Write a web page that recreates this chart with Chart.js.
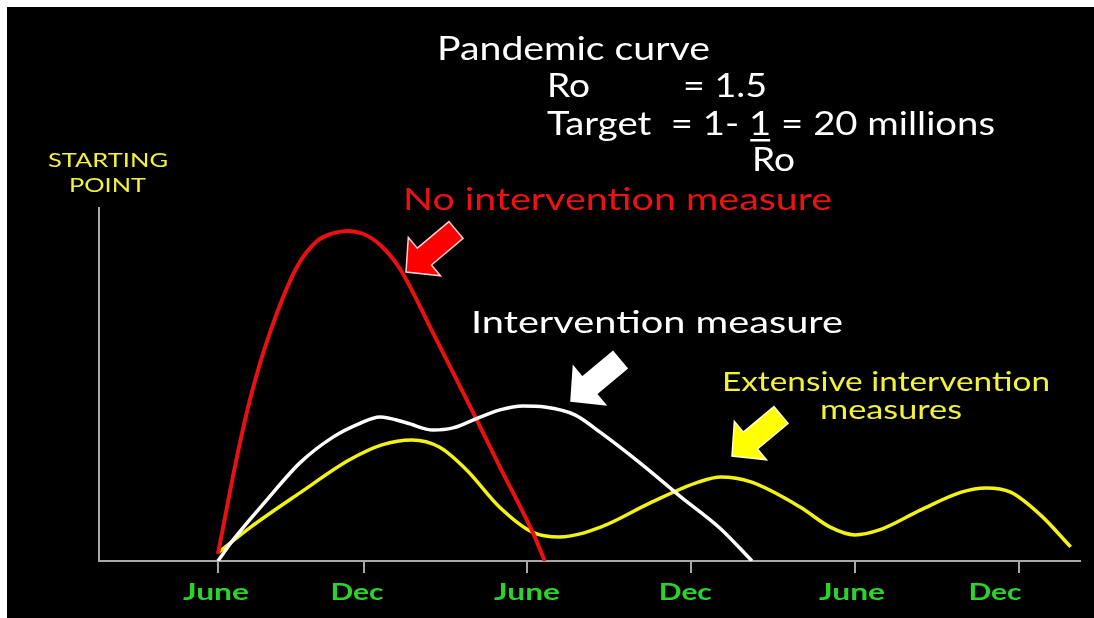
<!DOCTYPE html>
<html>
<head>
<meta charset="utf-8">
<script src="https://cdn.jsdelivr.net/npm/chart.js@4/dist/chart.umd.min.js"></script>
<style>
  html, body { margin: 0; padding: 0; background: #fff; }
  canvas { display: block; }
</style>
</head>
<body>
<canvas id="curve" width="1094" height="618"></canvas>
<script>
// x: months after the first June, y: relative number of cases
const noInterventionX = [0, 0.15, 0.62, 1.17, 1.9, 2.89, 3.62, 4.2, 4.72, 5.3, 5.93, 6.66, 7.87, 9.11, 10.32, 11.53, 11.96];
const noInterventionY = [2, 7.9, 26.6, 45.6, 64.6, 83.3, 90.6, 92.8, 93.5, 92.7, 89.6, 82.8, 64.6, 45.6, 26.6, 7.9, 0];

const interventionX = [0, 0.55, 1.79, 3.0, 4.21, 5.2, 5.93, 6.92, 7.87, 8.6, 9.33, 10.32, 11.16, 11.96,
                       13.06, 13.98, 15.44, 16.9, 18.37, 19.54];
const interventionY = [0, 5.9, 17.3, 27.8, 35.1, 39.0, 40.8, 39.1, 37.1, 37.7, 39.9, 42.8, 43.9, 43.6,
                       41.4, 36.5, 27.8, 18.4, 9.3, 0];

const extensiveX = [0, 1.2, 3.0, 4.8, 6.0, 7.1, 8.1, 9.1, 10.3, 11.5, 12.5, 14.0, 15.8, 17.6, 18.4, 19.5,
                    21.3, 22.4, 23.3, 24.2, 25.7, 27.2, 28.1, 29.0, 30.1, 31.2];
const extensiveY = [2.3, 9.6, 19.3, 28.6, 32.9, 34.3, 32.3, 25.8, 15.3, 8.2, 6.8, 9.6, 16.4, 22.4, 23.8, 22.4,
                    15.3, 9.6, 7.4, 8.8, 14.4, 19.5, 20.7, 19.5, 13.0, 4.0];

// Axis ticks and their month labels
const tickMonths = [0, 5.34, 11.31, 17.31, 23.31, 29.31];
const tickLabels = ['June', 'Dec', 'June', 'Dec', 'June', 'Dec'];
const labelMonths = [-0.07, 5.09, 11.31, 17.1, 23.2, 28.43];

const toPoints = (xs, ys) => xs.map((x, i) => ({ x: x, y: ys[i] }));

// Text blocks: left edge, baseline, width, cap height
const texts = [
  { text: 'Pandemic curve', x: 437, y: 60, w: 273, cap: 24, color: '#ffffff' },
  { text: 'Ro', x: 547, y: 97, w: 43, cap: 24, color: '#ffffff' },
  { text: '= 1.5', x: 683, y: 97, w: 84, cap: 24, color: '#ffffff' },
  { text: 'Target  = 1- 1 = 20 millions', x: 547, y: 135, w: 448, cap: 24, color: '#ffffff', underline: 'Target  = 1- ' },
  { text: 'Ro', x: 752, y: 171, w: 43, cap: 24, color: '#ffffff' },
  { text: 'STARTING', x: 48, y: 167, w: 120, cap: 14, color: '#f2f23a' },
  { text: 'POINT', x: 69, y: 192, w: 77, cap: 14, color: '#f2f23a' },
  { text: 'No intervention measure', x: 403, y: 210, w: 429, cap: 22, color: '#ee1111' },
  { text: 'Intervention measure', x: 471, y: 333, w: 372, cap: 22, color: '#ffffff' },
  { text: 'Extensive intervention', x: 722, y: 391, w: 328, cap: 19, color: '#f2f23a' },
  { text: 'measures', x: 820, y: 419, w: 142, cap: 19, color: '#f2f23a' }
];

// Block arrows pointing at the curves
const arrows = [
  { tailX: 456, tailY: 230, tipX: 406, tipY: 272, fill: '#ff0000', edge: '#ffd0d0' },
  { tailX: 620, tailY: 360, tipX: 571, tipY: 401, fill: '#ffffff', edge: '#ffffff' },
  { tailX: 781, tailY: 415, tipX: 732, tipY: 456, fill: '#ffff00', edge: '#ffffd0' }
];

const CAP_RATIO = 0.7165;

function drawFittedText(ctx, t, weight) {
  const size = t.cap / CAP_RATIO;
  ctx.font = (weight || 'normal') + ' ' + size + 'px Lato';
  const full = ctx.measureText(t.text).width;
  const sx = t.w / full;
  ctx.save();
  ctx.translate(t.x, t.y);
  ctx.scale(sx, 1);
  ctx.fillStyle = t.color;
  ctx.textBaseline = 'alphabetic';
  ctx.textAlign = 'left';
  ctx.fillText(t.text, 0, 0);
  if (t.underline) {
    const start = ctx.measureText(t.underline).width;
    const oneW = ctx.measureText('1').width;
    ctx.fillRect(start + 1, 4, oneW - 2, 2.5);
  }
  ctx.restore();
}

function drawArrow(ctx, a) {
  const shaftW = 22, headW = 50, headL = 24;
  const dx = a.tipX - a.tailX, dy = a.tipY - a.tailY;
  const len = Math.hypot(dx, dy);
  const ux = dx / len, uy = dy / len;
  const px = -uy, py = ux;
  const bx = a.tipX - ux * headL, by = a.tipY - uy * headL;
  const sw = shaftW / 2, hw = headW / 2;
  const pts = [
    [a.tailX + px * sw, a.tailY + py * sw],
    [bx + px * sw, by + py * sw],
    [bx + px * hw, by + py * hw],
    [a.tipX, a.tipY],
    [bx - px * hw, by - py * hw],
    [bx - px * sw, by - py * sw],
    [a.tailX - px * sw, a.tailY - py * sw]
  ];
  ctx.save();
  ctx.beginPath();
  pts.forEach((p, i) => (i ? ctx.lineTo(p[0], p[1]) : ctx.moveTo(p[0], p[1])));
  ctx.closePath();
  ctx.fillStyle = a.fill;
  ctx.fill();
  ctx.lineWidth = 1.5;
  ctx.strokeStyle = a.edge;
  ctx.stroke();
  ctx.restore();
}

const slidePlugin = {
  id: 'slide',
  beforeDraw(chart) {
    const ctx = chart.ctx;
    ctx.save();
    ctx.fillStyle = '#ffffff';
    ctx.fillRect(0, 0, chart.width, chart.height);
    ctx.fillStyle = '#000000';
    ctx.fillRect(7, 7, chart.width - 7, chart.height - 7);
    ctx.restore();
  },
  afterDraw(chart) {
    const ctx = chart.ctx;
    const xScale = chart.scales.x;
    // month labels under the axis
    tickLabels.forEach((lbl, i) => {
      const w = lbl === 'June' ? 66 : 53;
      const cx = xScale.getPixelForValue(labelMonths[i]);
      drawFittedText(ctx, { text: lbl, x: cx - w / 2, y: 600, w: w, cap: 17, color: '#2bd42b' }, 'bold');
    });
    texts.forEach(t => drawFittedText(ctx, t));
    arrows.forEach(a => drawArrow(ctx, a));
  }
};

const lineStyle = {
  pointRadius: 0,
  pointHoverRadius: 0,
  fill: false,
  cubicInterpolationMode: 'monotone'
};

new Chart(document.getElementById('curve'), {
  type: 'line',
  data: {
    datasets: [
      Object.assign({ label: 'Intervention measure', data: toPoints(interventionX, interventionY),
        borderColor: '#ffffff', borderWidth: 3.5 }, lineStyle),
      Object.assign({ label: 'No intervention measure', data: toPoints(noInterventionX, noInterventionY),
        borderColor: '#e81010', borderWidth: 4 }, lineStyle),
      Object.assign({ label: 'Extensive intervention measures', data: toPoints(extensiveX, extensiveY),
        borderColor: '#f2f214', borderWidth: 3.5 }, lineStyle)
    ]
  },
  options: {
    responsive: false,
    animation: false,
    devicePixelRatio: 1,
    layout: { padding: { left: 99, right: 14, top: 208, bottom: 45 } },
    plugins: { legend: { display: false }, tooltip: { enabled: false }, title: { display: false } },
    scales: {
      x: {
        type: 'linear',
        min: -4.35,
        max: 31.54,
        afterBuildTicks: scale => { scale.ticks = tickMonths.map(v => ({ value: v })); },
        grid: { drawOnChartArea: false, drawTicks: true, tickLength: 12, color: '#a8a8a8', lineWidth: 2 },
        border: { display: true, color: '#a8a8a8', width: 2 },
        ticks: { display: false }
      },
      y: {
        min: 0,
        max: 100,
        grid: { display: false, drawTicks: false },
        border: { display: true, color: '#a8a8a8', width: 2 },
        ticks: { display: false }
      }
    }
  },
  plugins: [slidePlugin]
});
</script>
</body>
</html>
